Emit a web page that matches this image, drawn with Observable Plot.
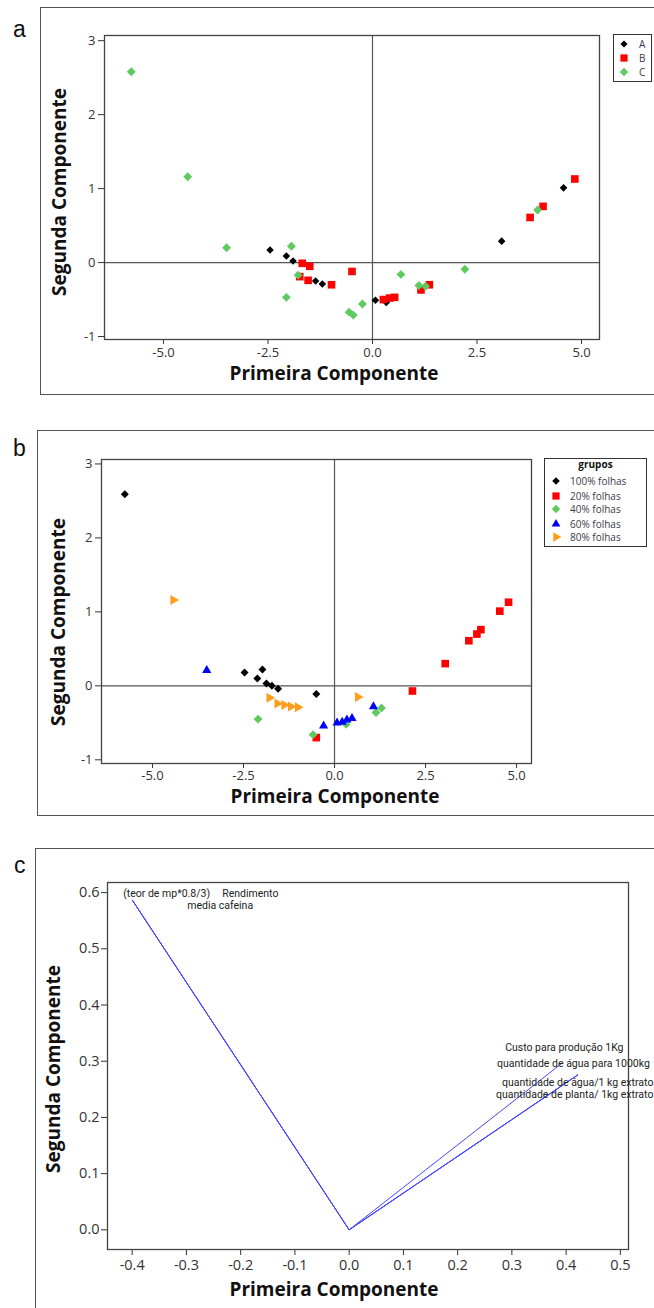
<!DOCTYPE html>
<html>
<head>
<meta charset="utf-8">
<script src="https://cdn.jsdelivr.net/npm/d3@7"></script>
<script src="https://cdn.jsdelivr.net/npm/@observablehq/plot@0.6"></script>
<style>
  html, body { margin: 0; padding: 0; background: #fff; }
  body { width: 654px; height: 1308px; position: relative; overflow: hidden; font-family: "Open Sans", sans-serif; }
  .abs { position: absolute; }
  .panel { position: absolute; border: 1px solid #555; box-sizing: border-box; }
  .tag { position: absolute; font: 23px/23px "Liberation Sans", Arial, sans-serif; color: #111; }
  .atitle { position: absolute; font: bold 19px/19px "Open Sans", sans-serif; color: #111; white-space: nowrap; }
  .legend { position: absolute; border: 1px solid #333; background: #fff; box-sizing: border-box; font-family: "Open Sans", sans-serif; font-size: 10px; color: #3a3a4a; }
  .legend .row { position: absolute; white-space: nowrap; line-height: 12px; }
  .legend svg { position: absolute; }
</style>
</head>
<body>
<div id="root"></div>
<script>
// ---------------- DATA ----------------
// Panel a: groups A, B, C  (Primeira / Segunda Componente scores)
const groupsA = ["A", "B", "C"];
const pc1_A = [-2.45, -2.06, -1.90, -1.36, -1.20, 0.07, 0.33, 3.09, 4.57];
const pc2_A = [0.17, 0.09, 0.02, -0.25, -0.29, -0.51, -0.54, 0.29, 1.01];
const pc1_B = [-1.68, -1.50, -1.74, -1.54, -0.98, -0.49, 0.26, 0.41, 0.53, 1.16, 1.36, 3.77, 4.08, 4.84];
const pc2_B = [-0.01, -0.05, -0.19, -0.24, -0.30, -0.12, -0.50, -0.48, -0.47, -0.37, -0.30, 0.61, 0.76, 1.13];
const pc1_C = [-5.77, -4.42, -3.49, -1.94, -1.78, -2.06, -0.56, -0.46, -0.24, 0.68, 1.11, 1.27, 2.21, 3.95];
const pc2_C = [2.58, 1.16, 0.20, 0.22, -0.17, -0.47, -0.67, -0.71, -0.56, -0.16, -0.31, -0.32, -0.09, 0.71];

// Panel b: grupos
const gruposB = ["100% folhas", "20% folhas", "40% folhas", "60% folhas", "80% folhas"];
const pc1_100 = [-5.76, -2.47, -2.12, -1.98, -1.87, -1.72, -1.55, -0.50];
const pc2_100 = [2.59, 0.18, 0.10, 0.22, 0.03, 0.00, -0.04, -0.11];
const pc1_20 = [-0.50, 2.14, 3.04, 3.69, 3.91, 4.02, 4.54, 4.78];
const pc2_20 = [-0.70, -0.07, 0.30, 0.61, 0.70, 0.76, 1.01, 1.13];
const pc1_40 = [-2.10, -0.59, 0.32, 1.14, 1.29];
const pc2_40 = [-0.45, -0.66, -0.52, -0.36, -0.30];
const pc1_60 = [-3.51, -0.30, 0.07, 0.21, 0.34, 0.48, 1.07];
const pc2_60 = [0.21, -0.54, -0.50, -0.49, -0.46, -0.44, -0.28];
const pc1_80 = [-4.43, -1.79, -1.57, -1.38, -1.20, -1.01, 0.64];
const pc2_80 = [1.16, -0.16, -0.24, -0.26, -0.28, -0.29, -0.15];

// Panel c: loadings
const variaveis = ["(teor de mp*0.8/3)", "Rendimento", "media cafeina", "Custo para produção 1Kg",
  "quantidade de água para 1000kg", "quantidade de água/1 kg extrato", "quantidade de planta/ 1kg extrato"];
const load1 = [-0.40, -0.40, -0.40, 0.393, 0.422, 0.422, 0.422];
const load2 = [0.587, 0.587, 0.587, 0.297, 0.276, 0.276, 0.276];

// Ticks
const ticksXab = [-5, -2.5, 0, 2.5, 5];
const ticksYab = [-1, 0, 1, 2, 3];
const ticksXc = [-0.4, -0.3, -0.2, -0.1, 0, 0.1, 0.2, 0.3, 0.4, 0.5];
const ticksYc = [0, 0.1, 0.2, 0.3, 0.4, 0.5, 0.6];
const xTitle = "Primeira Componente";
const yTitle = "Segunda Componente";

// ---------------- STYLES ----------------
const triangleRight = {
  draw(context, size) {
    const y = -Math.sqrt(size / (Math.sqrt(3) * 3));
    context.moveTo(-y * 2, 0);
    context.lineTo(y, -Math.sqrt(3) * y);
    context.lineTo(y, Math.sqrt(3) * y);
    context.closePath();
  }
};
const GREEN = "#5fca5f", RED = "#ff0000", BLACK = "#000000", BLUE = "#0000ff", ORANGE = "#ff9d1c";
const styleA = [
  {fill: BLACK, symbol: d3.symbolDiamond2, r: 3.4},
  {fill: RED, symbol: d3.symbolSquare, r: 4.3},
  {fill: GREEN, symbol: d3.symbolDiamond2, r: 4.0}
];
const styleB = [
  {fill: BLACK, symbol: d3.symbolDiamond2, r: 3.6},
  {fill: RED, symbol: d3.symbolSquare, r: 4.3},
  {fill: GREEN, symbol: d3.symbolDiamond2, r: 4.0},
  {fill: BLUE, symbol: d3.symbolTriangle, r: 3.4},
  {fill: ORANGE, symbol: triangleRight, r: 3.7}
];
const svgStyle = (fs) => ({background: "none", overflow: "visible", fontFamily: "'Open Sans', sans-serif", fontSize: fs, color: "#333"});
const fmt1 = d => d.toFixed(1);

const root = document.getElementById("root");
function add(tag, cls, css, text) {
  const el = document.createElement(tag);
  if (cls) el.className = cls;
  Object.assign(el.style, css);
  if (text != null) el.textContent = text;
  root.appendChild(el);
  return el;
}
function groupDots(xs, ys, st) {
  return Plot.dot(d3.range(xs.length), {x: i => xs[i], y: i => ys[i], fill: st.fill, symbol: st.symbol, r: st.r});
}

// ---------------- PANEL BOXES ----------------
add("div", "panel", {left: "40px", top: "7px", width: "640px", height: "388px"});
add("div", "panel", {left: "37px", top: "430px", width: "640px", height: "386px"});
add("div", "panel", {left: "35px", top: "848px", width: "640px", height: "480px"});
add("div", "tag", {left: "13px", top: "18px"}, "a");
add("div", "tag", {left: "13px", top: "437px"}, "b");
add("div", "tag", {left: "14px", top: "854px"}, "c");

// ---------------- PANEL A ----------------
const chartA = Plot.plot({
  width: 654, height: 400,
  marginLeft: 104, marginRight: 55, marginTop: 35, marginBottom: 61,
  style: svgStyle("13px"),
  x: {domain: [-6.41, 5.43], ticks: ticksXab, tickFormat: fmt1, tickSize: 5, tickPadding: 3, label: null},
  y: {domain: [-1.04, 3.07], ticks: ticksYab, tickFormat: d => String(d), tickSize: 6, tickPadding: 3, label: null},
  marks: [
    Plot.ruleX([0], {stroke: "#555", strokeWidth: 1.2}),
    Plot.ruleY([0], {stroke: "#555", strokeWidth: 1.2}),
    Plot.frame({stroke: "#444", strokeWidth: 1.3}),
    groupDots(pc1_A, pc2_A, styleA[0]),
    groupDots(pc1_B, pc2_B, styleA[1]),
    groupDots(pc1_C, pc2_C, styleA[2])
  ]
});
const wrapA = add("div", "abs", {left: "0px", top: "0px", width: "654px"});
wrapA.appendChild(chartA);

// ---------------- PANEL B ----------------
const chartB = Plot.plot({
  width: 654, height: 420,
  marginLeft: 101, marginRight: 123, marginTop: 59, marginBottom: 57,
  style: svgStyle("13px"),
  x: {domain: [-6.40, 5.41], ticks: ticksXab, tickFormat: fmt1, tickSize: 5, tickPadding: 2, label: null},
  y: {domain: [-1.05, 3.06], ticks: ticksYab, tickFormat: d => String(d), tickSize: 6, tickPadding: 3, label: null},
  marks: [
    Plot.ruleX([0], {stroke: "#555", strokeWidth: 1.2}),
    Plot.ruleY([0], {stroke: "#555", strokeWidth: 1.2}),
    Plot.frame({stroke: "#444", strokeWidth: 1.3}),
    groupDots(pc1_100, pc2_100, styleB[0]),
    groupDots(pc1_20, pc2_20, styleB[1]),
    groupDots(pc1_40, pc2_40, styleB[2]),
    groupDots(pc1_60, pc2_60, styleB[3]),
    groupDots(pc1_80, pc2_80, styleB[4])
  ]
});
const wrapB = add("div", "abs", {left: "0px", top: "400px", width: "654px"});
wrapB.appendChild(chartB);

// ---------------- PANEL C ----------------
const labelPlacement = [
  {anchor: "start", dx: -9, dy: -6},
  {anchor: "start", dx: 90, dy: -6},
  {anchor: "start", dx: 55, dy: 6},
  {anchor: "middle", dx: 2, dy: -15},
  {anchor: "start", dx: -81, dy: -11},
  {anchor: "start", dx: -76, dy: 8},
  {anchor: "start", dx: -82, dy: 20}
];
const chartC = Plot.plot({
  width: 654, height: 468,
  marginLeft: 107, marginRight: 26, marginTop: 42, marginBottom: 59,
  style: svgStyle("14.5px"),
  x: {domain: [-0.4455, 0.515], ticks: ticksXc, tickFormat: fmt1, tickSize: 6, tickPadding: 4, label: null},
  y: {domain: [-0.035, 0.618], ticks: ticksYc, tickFormat: fmt1, tickSize: 6, tickPadding: 2, label: null},
  marks: [
    Plot.frame({stroke: "#444", strokeWidth: 1.3}),
    Plot.link(d3.range(variaveis.length), {x1: () => 0, y1: () => 0, x2: i => load1[i], y2: i => load2[i], stroke: "#4646ff", strokeWidth: 1}),
    ...labelPlacement.map((p, i) => Plot.text([i], {
      x: j => load1[j], y: j => load2[j], text: j => variaveis[j],
      textAnchor: p.anchor, dx: p.dx, dy: p.dy,
      fontSize: 10.5, fontFamily: "Roboto, 'Open Sans', sans-serif", fill: "#222"
    }))
  ]
});
const wrapC = add("div", "abs", {left: "0px", top: "840px", width: "654px"});
wrapC.appendChild(chartC);

// ---------------- AXIS TITLES ----------------
function xTitleAt(cx, cy) { add("div", "atitle", {left: cx + "px", top: cy + "px", transform: "translate(-50%,-50%)"}, xTitle); }
function yTitleAt(cx, cy) { add("div", "atitle", {left: cx + "px", top: cy + "px", transform: "translate(-50%,-50%) rotate(-90deg)"}, yTitle); }
xTitleAt(334, 373); yTitleAt(58.6, 192);
xTitleAt(335, 795.5); yTitleAt(57.5, 622);
xTitleAt(334, 1289); yTitleAt(52.6, 1069);

// ---------------- LEGENDS ----------------
function legendSymbol(st, size) {
  const s = d3.create("svg").attr("width", 12).attr("height", 12).attr("viewBox", "-6 -6 12 12");
  s.append("path").attr("d", d3.symbol(st.symbol, Math.PI * size * size)()).attr("fill", st.fill);
  return s.node();
}
function buildLegend(box, title, names, styles, rowYs, symX, textX) {
  const lg = add("div", "legend", {left: box[0] + "px", top: box[1] + "px", width: box[2] + "px", height: box[3] + "px"});
  if (title) {
    const t = document.createElement("div");
    t.className = "row";
    Object.assign(t.style, {left: "0px", width: "100%", textAlign: "center", top: "-1px", fontWeight: "bold", color: "#111"});
    t.textContent = title;
    lg.appendChild(t);
  }
  names.forEach((n, i) => {
    const sv = legendSymbol(styles[i], styles[i].r * 0.95);
    Object.assign(sv.style, {left: (symX - 6) + "px", top: (rowYs[i] - 6) + "px"});
    lg.appendChild(sv);
    const r = document.createElement("div");
    r.className = "row";
    Object.assign(r.style, {left: textX + "px", top: (rowYs[i] - 6) + "px"});
    r.textContent = n;
    lg.appendChild(r);
  });
}
buildLegend([613, 34, 39, 48], null, groupsA, styleA, [9, 23, 37], 10, 25);
buildLegend([544, 458, 103, 89], "grupos", gruposB, styleB, [22, 37, 50, 65, 78], 11, 25);
</script>
</body>
</html>
